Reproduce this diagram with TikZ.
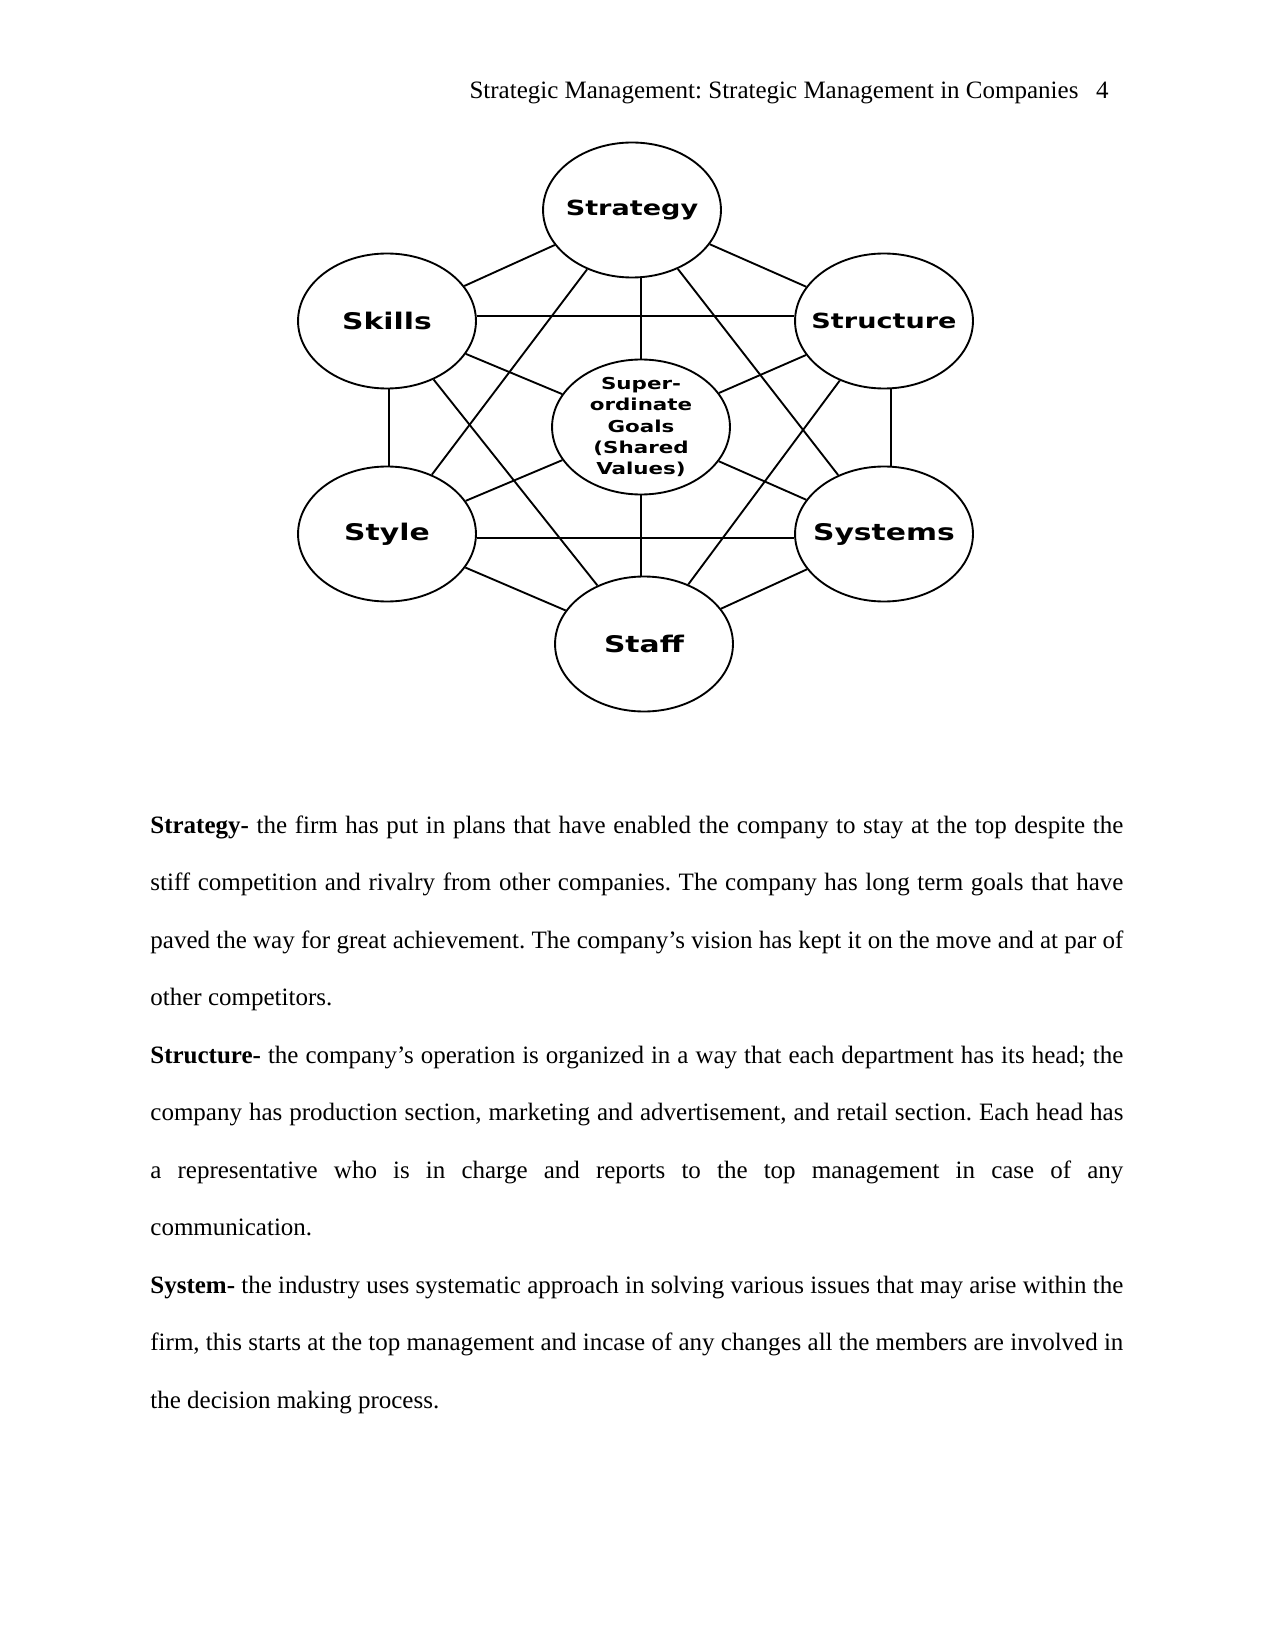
\documentclass[tikz,border=0pt]{standalone}
\usepackage{fontspec}
\setmainfont{Liberation Serif}
\newfontfamily\labelfont{DejaVu Sans}[FakeStretch=1.3]
\usepackage{tikz}
\usetikzlibrary{shapes.geometric}
\frenchspacing

\begin{document}
\begin{tikzpicture}[x=0.48pt, y=-0.48pt,
    unit/.style={ellipse, draw, line width=0.9pt, minimum width=85.4pt, minimum height=64.8pt, inner sep=0pt},
    bigtext/.style={font=\labelfont\bfseries\fontsize{11}{13}\selectfont},
    smalltext/.style={font=\labelfont\bfseries\fontsize{10}{12}\selectfont},
    goaltext/.style={font=\labelfont\bfseries\fontsize{7.9}{10.2}\selectfont, align=center},
    link/.style={line width=0.9pt},
    bodytext/.style={anchor=base west, inner sep=0pt, text width=467pt, align=justify,
      font=\fontsize{12}{27.6}\selectfont}]
        \path[fill=white] (0,0) rectangle (1275,1650);

        \node[anchor=base east, inner sep=0pt, font=\fontsize{12}{14}\selectfont] (header) at (1109,99)
          {Strategic Management: Strategic Management in Companies\hspace{8.5pt}4};

        % the seven S
        \node[unit, label={[smalltext]center:Strategy}] (strategy) at (632,210) {};
        \node[unit, label={[bigtext]center:Skills}] (skills) at (387,321) {};
        \node[unit, label={[smalltext]center:Structure}] (structure) at (884,321) {};
        \node[unit, label={[goaltext]center:Super-\\ordinate\\Goals\\(Shared\\Values)}] (goals) at (641,427) {};
        \node[unit, label={[bigtext]center:Style}] (style) at (387,534) {};
        \node[unit, label={[bigtext]center:Systems}] (systems) at (884,534) {};
        \node[unit, label={[bigtext]center:Staff}] (staff) at (644,644) {};

        \foreach \a/\b in {strategy/structure, systems/staff, staff/style, skills/strategy,
                           strategy/systems, structure/staff, style/strategy, staff/skills} {
          \draw[link] (\a) -- (\b);
        }
        \foreach \s in {structure, systems, style, skills} {
          \draw[link] (goals) -- (\s);
        }
        \draw[link] (goals.north) -- (goals.north |- strategy.south);
        \draw[link] (goals.south) -- (goals.south |- staff.north);
        \draw[link] ([yshift=2.4pt]skills.east) -- ([yshift=2.4pt]structure.west);
        \draw[link] ([yshift=-1.9pt]style.east) -- ([yshift=-1.9pt]systems.west);
        \draw[link] ([xshift=1pt]skills.south) -- ([xshift=1pt]style.north);
        \draw[link] ([xshift=3.4pt]structure.south) -- ([xshift=3.4pt]systems.north);

        % text below the model
        \node[bodytext] (strategyText) at (150,833)
          {\textbf{Strategy-} the firm has put in plans that have enabled the company to stay at the top despite the\linebreak
           stiff competition and rivalry from other companies. The company has long term goals that have\linebreak
           paved the way for great achievement. The company’s vision has kept it on the move and at par of\linebreak
           other competitors.};
        \node[bodytext] (structureText) at (150,1063)
          {\textbf{Structure-} the company’s operation is organized in a way that each department has its head; the\linebreak
           company has production section, marketing and advertisement, and retail section. Each head has\linebreak
           a representative who is in charge and reports to the top management in case of any\linebreak
           communication.};
        \node[bodytext] (systemText) at (150,1293)
          {\textbf{System-} the industry uses systematic approach in solving various issues that may arise within the\linebreak
           firm, this starts at the top management and incase of any changes all the members are involved in\linebreak
           the decision making process.};
      \end{tikzpicture}
\end{document}
